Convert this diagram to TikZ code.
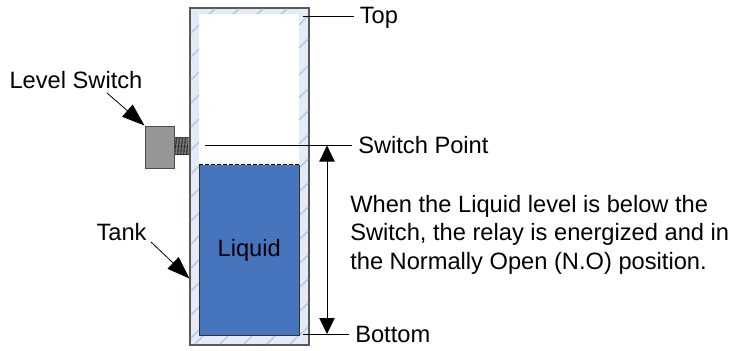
\documentclass[tikz,border=0pt]{standalone}
\usepackage{fontspec}
\setmainfont{Liberation Sans}
\usepackage{tikz}
\usetikzlibrary{arrows.meta}
\definecolor{wallfill}{HTML}{E5EBF6}
\definecolor{wallhatch}{HTML}{B0C3E6}
\definecolor{liquidblue}{HTML}{4674BD}
\definecolor{switchgray}{HTML}{969696}
\tikzstyle{label}=[font=\fontsize{17.75}{21.4}\selectfont,inner xsep=4.5pt,inner ysep=0pt,text=black]
\tikzstyle{leader}=[draw, line width=0.75pt]
\tikzstyle{bigarrow}=[draw, line width=0.6pt, -{Triangle[length=17pt,width=12pt]}]
\tikzstyle{spanarrow}=[draw, line width=0.6pt, -{Triangle[length=12pt,width=11.5pt]}]
\tikzstyle{hatch}=[draw=wallhatch, line width=1pt]

\begin{document}
\begin{tikzpicture}[x=0.75pt,y=-0.75pt]
  \useasboundingbox (0,0) rectangle (734,350);
  % tank
  \node (tank) at (249.5,176.5) [draw=black!65,line width=1pt,fill=wallfill,minimum width=89.25pt,minimum height=252.75pt,inner sep=0pt] {};
  \node (cavity) at (249,90) [fill=white,minimum width=75pt,minimum height=114pt,inner sep=0pt] {};
  % hatching of the walls
  \foreach \y in {33,57,80,103,127,150,174,197,221,244,268,291,315,338}
    \path [hatch] (191,\y) -- (199,\y-8);
  \foreach \y in {20,43,70,93,115,139,163,187,211,235,259,283,307,331}
    \path [hatch] (299,\y+5) -- (308,\y-4);
  \foreach \x in {213,237,261,285}
    \path [hatch] (\x-4,14) -- (\x+2,9);
  \foreach \x in {198,223,247,270,293}
    \path [hatch] (\x-3,344) -- (\x+5,336);
  % liquid
  \node (liquid) at (249.25,250) [fill=liquidblue,minimum width=74.6pt,minimum height=127.5pt,inner sep=0pt,label,inner xsep=0pt] {Liquid};
  \draw[black!80,line width=0.75pt] (liquid.north west) -- (liquid.south west) -- (liquid.south east) -- (liquid.north east);
  \draw[black,line width=0.75pt,dash pattern=on 3pt off 1.5pt] (liquid.north west) -- (liquid.north east);
  % switch
  \node (thread) at (181.5,146) [draw=black!70,fill=black!45,line width=0.5pt,minimum width=11.25pt,minimum height=12.75pt,inner sep=0pt] {};
  \foreach \x in {175,176.5,...,188}
    \draw[black!85,line width=0.5pt] (\x,138) -- (\x+1,155);
  \node (switch) at (159.5,147) [draw=black!70,fill=switchgray,line width=0.75pt,minimum width=21.75pt,minimum height=31.5pt,inner sep=0pt] {};
  % labels
  \node (levelswitch) at (76,80) [label] {Level Switch};
  \node (tanklabel) at (121.5,232) [label] {Tank};
  \node (toplabel) at (353.5,18) [label,anchor=west] {Top};
  \node (switchpoint) at (352,145) [label,anchor=west] {Switch Point};
  \node (bottomlabel) at (349,334) [label,anchor=west] {Bottom};
  \node (note) at (344,234.5) [label,anchor=west,align=left] {When the Liquid level is below the\\Switch, the relay is energized and in\\the Normally Open (N.O) position.};
  % leaders
  \coordinate (topend) at (303,16);
  \coordinate (pointend) at (205,145.5);
  \coordinate (bottomend) at (303,334);
  \path [leader] (topend) -- (toplabel.west |- topend);
  \path [leader] (pointend) -- (switchpoint.west |- pointend);
  \path [leader] (bottomend) -- (bottomlabel.west |- bottomend);
  % arrows
  \coordinate (switchfrom) at (107,93);
  \coordinate (tankfrom) at (151,242);
  \coordinate (tankto) at (189.5,278.5);
  \coordinate (spanfrom) at (327,240);
  \coordinate (spantop) at (327,145.5);
  \coordinate (spanbottom) at (327,334);
  \path [bigarrow] (switchfrom) -- (switch.north west);
  \path [bigarrow] (tankfrom) -- (tankto);
  \path [spanarrow] (spanfrom) -- (spantop);
  \path [spanarrow] (spanfrom) -- (spanbottom);
\end{tikzpicture}
\end{document}
